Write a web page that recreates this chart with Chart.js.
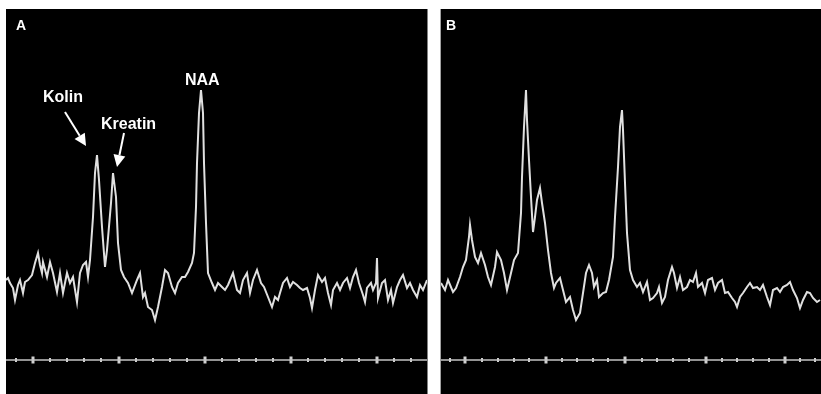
<!DOCTYPE html>
<html>
<head>
<meta charset="utf-8">
<script src="https://cdn.jsdelivr.net/npm/chart.js@4.4.1/dist/chart.umd.min.js"></script>
<style>
  html, body { margin: 0; padding: 0; background: #fff; }
  body { width: 821px; height: 394px; position: relative; overflow: hidden; }
  .panel { position: absolute; top: 9px; height: 385px; background: #000; }
  #wrapA { left: 6px; width: 421px; border-right: 1px solid #808080; }
  #wrapB { left: 440px; width: 380px; border-left: 1px solid #a0a0a0; }
  .lbl { position: absolute; color: #fff; font-family: "Liberation Sans", Arial, sans-serif;
         font-weight: bold; line-height: 1; white-space: nowrap; }
</style>
</head>
<body>
<div class="panel" id="wrapA"><canvas id="chartA" width="421" height="385"></canvas></div>
<div class="panel" id="wrapB"><canvas id="chartB" width="380" height="385"></canvas></div>

<div class="lbl" style="left:16px;top:18px;font-size:14px;">A</div>
<div class="lbl" style="left:446px;top:18px;font-size:14px;">B</div>
<div class="lbl" style="left:43px;top:89px;font-size:16px;">Kolin</div>
<div class="lbl" style="left:101px;top:116px;font-size:16px;">Kreatin</div>
<div class="lbl" style="left:185px;top:72px;font-size:16px;">NAA</div>

<script>
// spectrum A (position, intensity above the baseline)
var posA = [6,8,10,13,15,18,20,23,25,28,32,35,38,40,42,43,47,50,53,57,60,63,67,70,73,77,80,83,86,88,
  90,93,95,97,99,102,105,107,111,113,116,118,121,124,128,132,137,140,143,145,148,152,155,158,162,165,168,172,175,178,
  182,185,188,192,194,196,197,199,201,203,204,206,208,212,215,218,222,225,228,233,237,240,243,247,250,253,257,261,264,268,
  272,275,278,280,283,287,290,293,297,300,303,307,310,312,315,318,322,325,328,331,333,337,340,343,347,350,353,356,359,363,
  365,367,371,373,376,377,378,382,385,388,391,393,397,400,403,407,410,413,417,420,423,427];
var valA = [80,82,77,72,60,75,80,67,78,80,85,97,107,95,87,98,83,98,87,68,87,67,87,77,83,58,87,95,98,83,
  100,143,187,205,180,133,93,110,157,187,163,117,90,83,77,67,80,87,63,67,53,50,40,53,73,90,87,73,67,77,
  83,83,88,97,107,153,197,247,270,247,197,137,87,77,70,77,73,70,75,87,70,67,80,87,67,80,90,77,73,63,
  53,63,60,67,77,82,73,78,75,72,70,72,62,52,70,85,78,82,67,55,70,77,70,77,82,72,83,90,77,65,
  58,72,77,70,77,102,62,77,80,60,70,57,73,80,85,72,77,70,63,75,70,80];

// spectrum B
var posB = [441,445,448,453,456,460,463,466,469,470,472,475,478,481,485,488,491,495,497,501,504,507,511,514,518,521,522,524,526,527,
  529,531,533,535,537,540,542,545,548,551,554,556,560,563,566,570,573,576,580,583,586,589,592,594,597,599,603,606,609,613,
  615,618,620,622,623,625,627,630,633,637,640,643,647,650,653,657,659,662,665,668,672,674,677,680,683,687,690,693,696,698,
  702,705,708,712,715,718,722,725,728,732,735,737,740,743,747,750,753,757,760,763,767,770,773,777,780,783,787,790,793,797,
  800,803,807,810,813,817,820];
var valB = [77,70,80,68,72,83,93,100,123,135,120,103,97,107,95,83,75,93,108,100,87,70,87,100,107,147,183,233,270,240,
  200,163,128,143,160,172,157,137,110,87,72,77,82,70,58,63,50,40,47,67,87,95,87,73,80,63,67,68,80,103,
  143,193,233,250,230,177,127,90,80,73,77,68,78,60,62,67,73,57,63,80,93,87,72,83,70,73,80,78,87,73,
  77,67,80,82,70,77,80,67,68,62,58,53,63,67,73,77,72,73,70,75,63,55,70,72,68,73,75,78,70,62,
  52,60,68,67,62,58,60];

// baseline scale ticks (position, 1 = long tick)
var ticksA = [16,33,50,67,84,101,119,136,153,170,187,205,222,239,256,273,291,308,325,342,359,377,394,411];
var majorA = [0,1,0,0,0,0,1,0,0,0,0,1,0,0,0,0,1,0,0,0,0,1,0,0];
var ticksB = [450,465,482,498,514,529,546,562,577,593,608,625,642,657,673,689,706,722,737,753,769,785,800,815];
var majorB = [0,1,0,0,0,0,1,0,0,0,0,1,0,0,0,0,1,0,0,0,0,1,0,0];

var rangeA = [6, 427];
var rangeB = [441, 821];
var yRange = [-34, 351];

// annotation arrows in data units: [fromX, fromY, tipX, tipY]
var arrowsA = [[65, 248, 86, 214], [124, 227, 117, 193]];

function pts(xs, ys) {
  return xs.map(function(x, i) { return {x: x, y: ys[i]}; });
}

var arrowPlugin = {
  id: 'arrows',
  afterDatasetsDraw: function(chart, args, opts) {
    if (!opts.list) return;
    var ctx = chart.ctx, sx = chart.scales.x, sy = chart.scales.y;
    ctx.save();
    ctx.strokeStyle = '#fff';
    ctx.fillStyle = '#fff';
    ctx.lineWidth = 2;
    opts.list.forEach(function(a) {
      var x0 = sx.getPixelForValue(a[0]), y0 = sy.getPixelForValue(a[1]);
      var x1 = sx.getPixelForValue(a[2]), y1 = sy.getPixelForValue(a[3]);
      var ang = Math.atan2(y1 - y0, x1 - x0);
      var hl = 12, hw = 6;
      var bx = x1 - hl * Math.cos(ang), by = y1 - hl * Math.sin(ang);
      ctx.beginPath();
      ctx.moveTo(x0, y0);
      ctx.lineTo(bx, by);
      ctx.stroke();
      ctx.beginPath();
      ctx.moveTo(x1, y1);
      ctx.lineTo(bx + hw * Math.sin(ang), by - hw * Math.cos(ang));
      ctx.lineTo(bx - hw * Math.sin(ang), by + hw * Math.cos(ang));
      ctx.closePath();
      ctx.fill();
    });
    ctx.restore();
  }
};

function makeChart(id, xs, ys, ticks, major, range, arrows) {
  new Chart(document.getElementById(id), {
    type: 'scatter',
    data: {
      datasets: [
        {
          data: pts(xs, ys),
          showLine: true,
          borderColor: 'rgba(236,236,236,0.95)',
          borderWidth: 2,
          pointRadius: 0,
          tension: 0
        },
        {
          data: [{x: range[0], y: 0}, {x: range[1], y: 0}],
          showLine: true,
          borderColor: '#c4c4c4',
          borderWidth: 1.6,
          pointRadius: 0
        },
        {
          data: ticks.map(function(t) { return {x: t, y: 0}; }),
          showLine: false,
          pointStyle: 'line',
          pointRotation: 90,
          pointRadius: major.map(function(m) { return m ? 3.5 : 2; }),
          pointBorderWidth: major.map(function(m) { return m ? 3 : 2; }),
          pointBorderColor: '#d0d0d0',
          borderColor: '#d0d0d0'
        }
      ]
    },
    options: {
      responsive: false,
      animation: false,
      layout: { padding: 0, autoPadding: false },
      plugins: {
        legend: { display: false },
        tooltip: { enabled: false },
        arrows: { list: arrows }
      },
      scales: {
        x: { type: 'linear', display: false, min: range[0], max: range[1] },
        y: { type: 'linear', display: false, min: yRange[0], max: yRange[1] }
      }
    },
    plugins: [arrowPlugin]
  });
}

makeChart('chartA', posA, valA, ticksA, majorA, rangeA, arrowsA);
makeChart('chartB', posB, valB, ticksB, majorB, rangeB, null);
</script>
</body>
</html>
